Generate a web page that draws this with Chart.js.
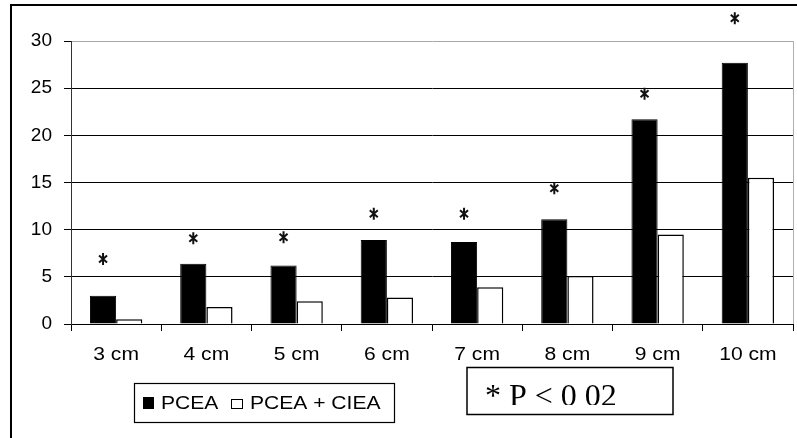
<!DOCTYPE html>
<html>
<head>
<meta charset="utf-8">
<script src="https://cdn.jsdelivr.net/npm/chart.js@4.4.1/dist/chart.umd.min.js"></script>
<style>
  body { margin: 0; background: #fff; }
  #wrap { width: 797px; height: 438px; }
</style>
</head>
<body>
<div id="wrap"><canvas id="barChart" width="797" height="438"></canvas></div>
<script>
const categories = ['3 cm', '4 cm', '5 cm', '6 cm', '7 cm', '8 cm', '9 cm', '10 cm'];
const pcea = [3.0, 6.4, 6.2, 8.9, 8.7, 11.1, 21.7, 27.7];
const pceaCiea = [0.5, 1.8, 2.4, 2.8, 3.9, 5.1, 9.5, 15.5];
// where the significance stars sit (in y units)
const starLevels = [6.9, 9.1, 9.2, 11.7, 11.7, 14.4, 24.4, 32.4];
const yMin = 0, yMax = 30, yStep = 5;
const noteText = '* P < 0 02';

function stretchedText(ctx, text, x, y, sx) {
    ctx.save();
    ctx.translate(x, y);
    ctx.scale(sx, 1);
    ctx.fillText(text, 0, 0);
    ctx.restore();
}

function drawStar(ctx, x, y) {
    ctx.save();
    ctx.strokeStyle = '#111';
    ctx.lineWidth = 2;
    ctx.beginPath();
    ctx.moveTo(x, y - 6);
    ctx.lineTo(x, y + 6);
    ctx.moveTo(x - 4, y - 3.5);
    ctx.lineTo(x + 4, y + 3.5);
    ctx.moveTo(x - 4, y + 3.5);
    ctx.lineTo(x + 4, y - 3.5);
    ctx.stroke();
    ctx.restore();
}

const extras = {
    id: 'extras',
    afterDraw(chart) {
        const ctx = chart.ctx;
        const area = chart.chartArea;
        const xs = chart.scales.x, ys = chart.scales.y;

        // right frame of plot area
        ctx.save();
        ctx.strokeStyle = '#b0b0b0';
        ctx.lineWidth = 1;
        ctx.beginPath();
        ctx.moveTo(Math.round(area.right) + 0.5, area.top);
        ctx.lineTo(Math.round(area.right) + 0.5, area.bottom);
        ctx.stroke();
        ctx.restore();

        // category labels (slightly wide, like the original)
        ctx.save();
        ctx.fillStyle = '#000';
        ctx.font = '18px "Liberation Sans", Arial, sans-serif';
        ctx.textAlign = 'center';
        ctx.textBaseline = 'alphabetic';
        categories.forEach((c, i) => {
            stretchedText(ctx, c, xs.getPixelForTick(i), 360, 1.17);
        });
        ctx.restore();

        // stars above PCEA bars
        const meta = chart.getDatasetMeta(0);
        meta.data.forEach((bar, i) => {
            drawStar(ctx, bar.x, ys.getPixelForValue(starLevels[i]));
        });

        // legend box
        ctx.save();
        ctx.strokeStyle = '#000';
        ctx.lineWidth = 1.2;
        ctx.strokeRect(134.5, 383.5, 260, 39);
        ctx.fillStyle = '#000';
        ctx.fillRect(143, 397, 11, 12);
        ctx.fillStyle = '#fff';
        ctx.fillRect(231, 399, 12, 10);
        ctx.lineWidth = 1;
        ctx.strokeRect(231.5, 399.5, 11, 9);
        ctx.fillStyle = '#000';
        ctx.font = '18px "Liberation Sans", Arial, sans-serif';
        ctx.textAlign = 'left';
        stretchedText(ctx, chart.data.datasets[0].label, 161, 408.5, 1.17);
        stretchedText(ctx, chart.data.datasets[1].label, 250, 408.5, 1.17);
        ctx.restore();

        // significance note box
        ctx.save();
        ctx.strokeStyle = '#000';
        ctx.lineWidth = 1.5;
        ctx.strokeRect(467, 367.5, 206, 47);
        ctx.beginPath();
        ctx.rect(468, 368, 204, 37);
        ctx.clip();
        ctx.fillStyle = '#000';
        ctx.font = '32px "Liberation Serif", "Times New Roman", serif';
        ctx.textAlign = 'left';
        ctx.fillText(noteText, 485, 406);
        ctx.restore();

        // outer frame (left and top visible)
        ctx.save();
        ctx.strokeStyle = '#000';
        ctx.lineWidth = 2;
        ctx.beginPath();
        ctx.moveTo(11, 438);
        ctx.lineTo(11, 5);
        ctx.lineTo(797, 5);
        ctx.stroke();
        ctx.restore();
    }
};

new Chart(document.getElementById('barChart'), {
    type: 'bar',
    data: {
        labels: categories,
        datasets: [{
            label: 'PCEA',
            data: pcea,
            backgroundColor: '#000',
            borderColor: '#000',
            borderWidth: 1,
            categoryPercentage: 0.58,
            barPercentage: 1
        }, {
            label: 'PCEA + CIEA',
            data: pceaCiea,
            backgroundColor: '#fff',
            borderColor: '#000',
            borderWidth: 1.5,
            categoryPercentage: 0.58,
            barPercentage: 1
        }]
    },
    options: {
        responsive: false,
        animation: false,
        layout: { padding: { top: 41, right: 4, bottom: 0, left: 0 } },
        plugins: {
            legend: { display: false },
            tooltip: { enabled: false }
        },
        scales: {
            x: {
                afterFit: s => { s.height = 114; },
                grid: { drawOnChartArea: false, offset: true, color: '#000', tickLength: 7 },
                border: { color: '#000' },
                ticks: { color: 'rgba(0,0,0,0)', font: { size: 18 } }
            },
            y: {
                min: yMin,
                max: yMax,
                afterFit: s => { s.width = 71; },
                grid: {
                    color: c => (c.tick && c.tick.value === yMax) ? '#a8a8a8' : '#000',
                    tickColor: '#000',
                    tickLength: 7
                },
                border: { color: '#333' },
                ticks: {
                    stepSize: yStep,
                    padding: 12,
                    color: '#000',
                    font: { family: '"Liberation Sans", Arial, sans-serif', size: 19 }
                }
            }
        }
    },
    plugins: [extras]
});
</script>
</body>
</html>
